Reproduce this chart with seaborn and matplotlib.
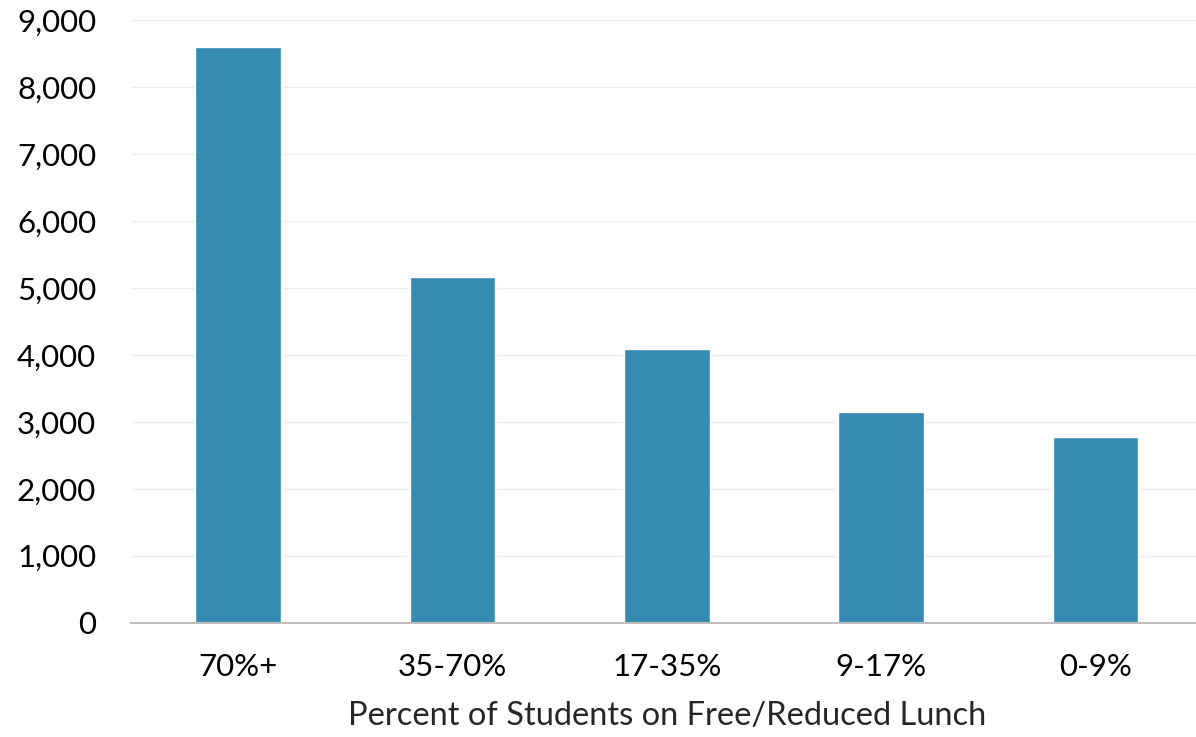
import matplotlib
matplotlib.use("Agg")
import matplotlib.pyplot as plt
import seaborn as sns
import pandas as pd
from matplotlib.ticker import FuncFormatter

# Values
categories = ['70%+', '35-70%', '17-35%', '9-17%', '0-9%']
counts = [8600, 5160, 4090, 3150, 2770]

df = pd.DataFrame({'group': categories, 'count': counts})

sns.set_style("white")
plt.rcParams['font.family'] = ['Lato', 'DejaVu Sans']

fig = plt.figure(figsize=(11.96, 7.37), dpi=100)
ax = fig.add_axes([0.1095, 0.155, 0.896, 0.818])
sns.barplot(data=df, x='group', y='count', color='#358BB2', width=0.4,
            saturation=1, ax=ax)

ax.set_ylim(0, 9000)
ax.set_yticks(range(0, 9001, 1000))
ax.yaxis.set_major_formatter(FuncFormatter(lambda v, p: f'{int(v):,}'))
ax.grid(axis='y', color='#EFEFEF', linewidth=1)
ax.set_axisbelow(True)
for s in ['top', 'right', 'left']:
    ax.spines[s].set_visible(False)
ax.spines['bottom'].set_color('#BFBFBF')
ax.spines['bottom'].set_linewidth(1.5)
ax.tick_params(axis='both', length=0, labelsize=22.5, colors='black')
ax.tick_params(axis='y', pad=25)
ax.tick_params(axis='x', pad=22)
ax.set_ylabel('')
ax.set_xlabel('Percent of Students on Free/Reduced Lunch', fontsize=23.5, labelpad=14)

fig.savefig('out.png', dpi=100)
plt.close(fig)
